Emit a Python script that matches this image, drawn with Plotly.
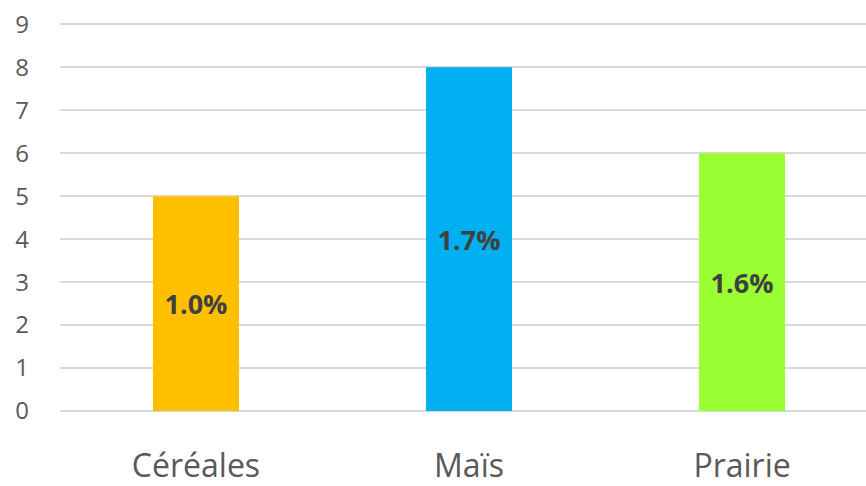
import plotly.graph_objects as go

categories = ["Céréales", "Maïs", "Prairie"]
values = [5, 8, 6]
labels = ["1.0%", "1.7%", "1.6%"]
colors = ["#FFC000", "#00B0F0", "#99FF33"]
y_ticks = list(range(0, 10))

fig = go.Figure(go.Bar(
    x=categories, y=values, text=labels,
    marker=dict(color=colors, line=dict(width=0)),
    width=0.315,
    textposition="inside", insidetextanchor="middle",
    textangle=0,
    textfont=dict(family="Open Sans", size=27, color="#404040", weight="bold"),
    hoverinfo="skip",
))

fig.update_layout(
    width=866, height=486,
    margin=dict(l=60, r=0, t=20, b=72),
    paper_bgcolor="white", plot_bgcolor="white",
    showlegend=False,
)
fig.update_xaxes(
    range=[-0.498, 2.454],
    tickfont=dict(family="Open Sans", size=32, color="#595959"),
    ticklabelstandoff=33,
    showgrid=False, zeroline=False, showline=False, ticks="",
)
fig.update_yaxes(
    range=[0, 9.1], tickvals=y_ticks,
    tickfont=dict(family="Open Sans", size=24, color="#595959"),
    ticklabelstandoff=30,
    showgrid=True, gridcolor="#D9D9D9", gridwidth=1.5,
    zeroline=True, zerolinecolor="#D9D9D9", zerolinewidth=1.5,
    showline=False, ticks="",
)

fig.write_html(
    "out.html",
    config={"displayModeBar": False},
    post_script="document.body.style.margin='0';document.body.style.overflow='hidden';",
)
